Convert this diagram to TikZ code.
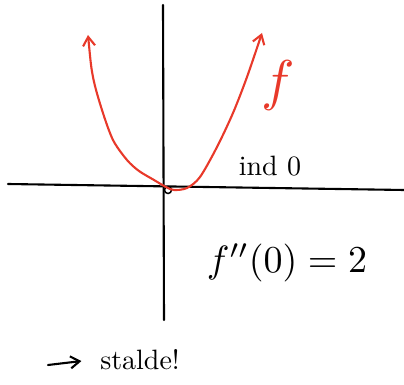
\documentclass[tikz,border=0pt]{standalone}
\usetikzlibrary{arrows.meta}
\definecolor{penred}{RGB}{232,57,42}
\tikzset{
  hand/.style={line width=2.1pt, line cap=round, line join=round},
  barb/.style={-{Straight Barb[length=9pt,width=12pt]}},
}
\begin{document}
\begin{tikzpicture}[x=1pt,y=1pt]
    \useasboundingbox (-166,-197) rectangle (238,188);
    % axes
    \draw[hand] (-158,4) -- (238,-2);
    \draw[hand] (-3,183) -- (-2,-132);
    \draw[line width=1.5pt] (2,-2) circle (3.5);
    % the graph of f
    \draw[hand, penred, {Straight Barb[length=9pt,width=12pt]}-{Straight Barb[length=9pt,width=12pt]}]
      plot[smooth, tension=0.5] coordinates {(-78,153) (-73,111) (-64,78) (-53,48) (-39,28)
        (-27,17) (-12,8) (0,1) (8,-2) (21,0) (34,11) (51,41) (67,75) (81,111) (96,155)};
    \node[penred, scale=5.6] (flabel) at (112,102) {$f$};
    \node[scale=2.8] (ind) at (104,22) {ind 0};
    \node[scale=3.8] (fpp) at (121,-75) {$f''(0)=2$};
    \node[scale=2.8] (stalde) at (-26,-172) {stalde!};
    \coordinate (arrS) at (-118,-177);
    \draw[hand, barb, shorten >=9pt] (arrS) -- (stalde.west);
\end{tikzpicture}
\end{document}
